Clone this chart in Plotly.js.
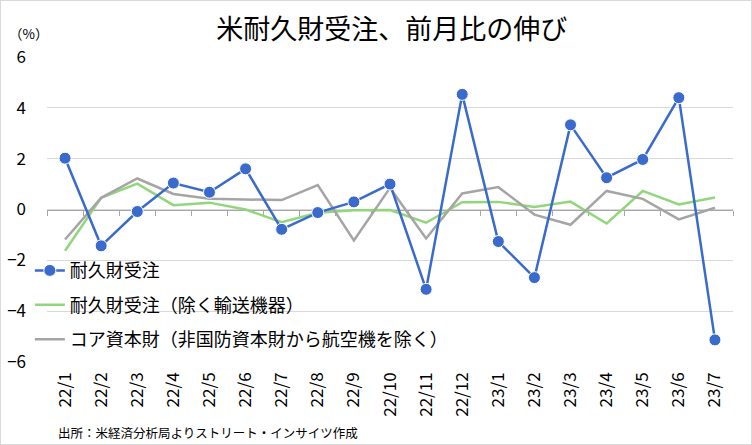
<!DOCTYPE html>
<html>
<head>
<meta charset="utf-8">
<script src="https://cdn.plot.ly/plotly-3.0.1.min.js"></script>
<style>
  html, body { margin: 0; padding: 0; background: #fff; }
  #wrap { width: 750px; height: 443px; border: 1px solid #d9d9d9; }
  #chart { width: 750px; height: 443px; }
</style>
</head>
<body>
<div id="wrap"><div id="chart"></div></div>
<script>
const months = ['22/1', '22/2', '22/3', '22/4', '22/5', '22/6', '22/7', '22/8', '22/9', '22/10',
    '22/11', '22/12', '23/1', '23/2', '23/3', '23/4', '23/5', '23/6', '23/7'];

// 前月比（%）
const durableOrders = [2.02, -1.43, -0.08, 1.04, 0.68, 1.6, -0.78, -0.12, 0.3, 1.0,
    -3.14, 4.53, -1.26, -2.68, 3.33, 1.25, 1.97, 4.4, -5.13];
const exTransport = [-1.62, 0.46, 1.02, 0.17, 0.27, 0.0, -0.5, -0.13, -0.03, -0.02,
    -0.52, 0.29, 0.3, 0.1, 0.31, -0.55, 0.73, 0.2, 0.47];
const coreCapital = [-1.18, 0.46, 1.22, 0.61, 0.42, 0.39, 0.37, 0.96, -1.22, 0.85,
    -1.14, 0.63, 0.88, -0.2, -0.6, 0.73, 0.42, -0.39, 0.07];

const FONT = '"Noto Sans CJK JP", "Noto Sans", sans-serif';

function drawChart() {
    const blue = {
        x: months, y: durableOrders,
        type: 'scatter', mode: 'lines+markers',
        name: '耐久財受注',
        legendgroup: 'a',
        line: { color: '#3a6bcc', width: 2.5 },
        marker: { color: '#3a6bcc', size: 12, line: { color: '#ffffff', width: 1 } },
        xaxis: 'x2', yaxis: 'y'
    };
    const green = {
        x: months, y: exTransport,
        type: 'scatter', mode: 'lines',
        name: '耐久財受注（除く輸送機器）',
        legendgroup: 'b',
        line: { color: '#92d67c', width: 2.5 },
        xaxis: 'x', yaxis: 'y'
    };
    const grey = {
        x: months, y: coreCapital,
        type: 'scatter', mode: 'lines',
        name: 'コア資本財（非国防資本財から航空機を除く）',
        legendgroup: 'c',
        line: { color: '#a5a5a5', width: 2.5 },
        xaxis: 'x', yaxis: 'y'
    };

    const layout = {
        width: 750,
        height: 443,
        margin: { l: 46, r: 18, t: 56, b: 82 },
        paper_bgcolor: '#ffffff',
        plot_bgcolor: '#ffffff',
        font: { family: FONT, color: '#000000' },
        title: {
            text: '米耐久財受注、前月比の伸び',
            font: { family: FONT, size: 27, color: '#000000' },
            x: 0.521, xanchor: 'center',
            y: 0.935, yanchor: 'middle'
        },
        showlegend: true,
        legend: {
            x: -0.025, xanchor: 'left',
            y: 0.36, yanchor: 'top',
            bgcolor: 'rgba(0,0,0,0)',
            font: { family: FONT, size: 18, color: '#000000' },
            traceorder: 'grouped',
            tracegroupgap: 8
        },
        xaxis: {
            type: 'category',
            categoryorder: 'array',
            categoryarray: months,
            range: [-0.5, 18.5],
            showgrid: false,
            zeroline: false,
            showline: false,
            ticks: '',
            tickangle: -90,
            ticklabelstandoff: 6,
            tickfont: { family: FONT, size: 17, color: '#000000' }
        },
        xaxis2: {
            type: 'category',
            categoryorder: 'array',
            categoryarray: months,
            range: [-0.5, 18.5],
            overlaying: 'x',
            anchor: 'free',
            position: 0.5,
            showgrid: false,
            zeroline: false,
            showline: true,
            linecolor: '#a6a6a6',
            linewidth: 1.5,
            ticks: 'outside',
            tickson: 'boundaries',
            ticklen: 5,
            tickcolor: '#a6a6a6',
            tickwidth: 1,
            showticklabels: false,
            layer: 'below traces'
        },
        yaxis: {
            range: [-6, 6],
            dtick: 2,
            tick0: 0,
            showgrid: true,
            gridcolor: '#d9d9d9',
            gridwidth: 1,
            zeroline: false,
            showline: false,
            ticks: '',
            ticklabelstandoff: 20,
            tickfont: { family: FONT, size: 17, color: '#000000' }
        },
        annotations: [
            {
                text: '（%）', xref: 'paper', yref: 'paper',
                x: -0.058, y: 1.078, xanchor: 'left', yanchor: 'middle',
                showarrow: false,
                font: { family: FONT, size: 13.5, color: '#000000' }
            },
            {
                text: '出所：米経済分析局よりストリート・インサイツ作成', xref: 'paper', yref: 'paper',
                x: 0.013, y: -0.232, xanchor: 'left', yanchor: 'middle',
                showarrow: false,
                font: { family: FONT, size: 12.5, color: '#000000' }
            }
        ]
    };

    Plotly.newPlot('chart', [blue, green, grey], layout, { displayModeBar: false, staticPlot: true });
}

document.addEventListener('DOMContentLoaded', drawChart);
</script>
</body>
</html>
